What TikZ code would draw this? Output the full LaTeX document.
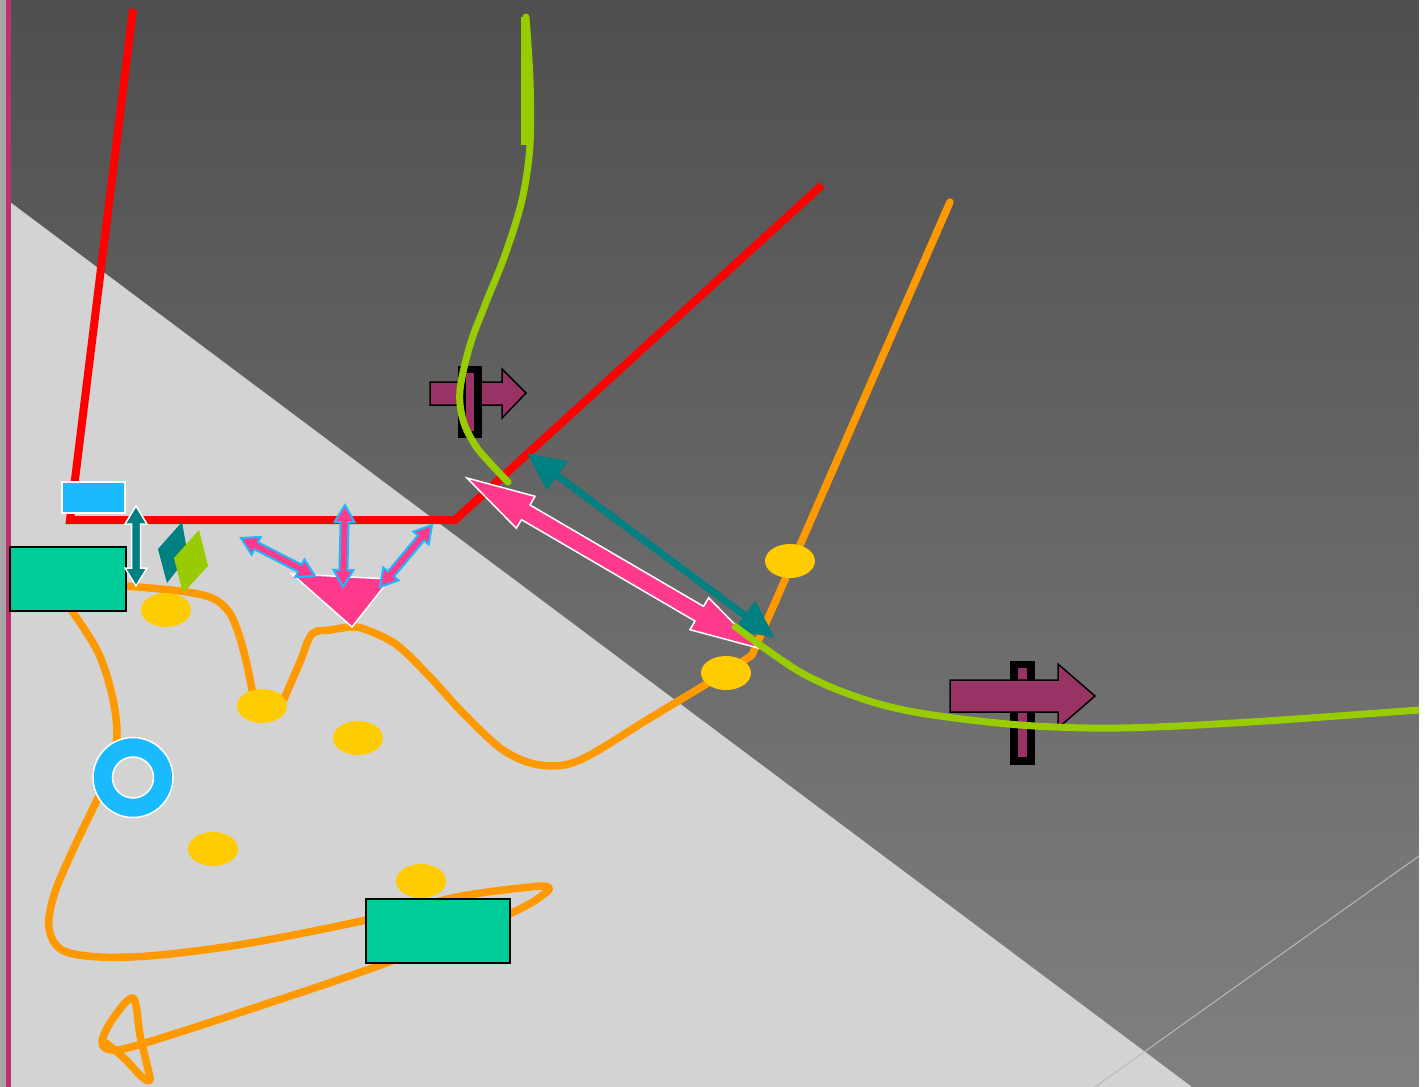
\documentclass[tikz,border=0pt]{standalone}
\usetikzlibrary{shapes.geometric,arrows.meta}
\definecolor{bgtop}{RGB}{79,79,79}
\definecolor{bgbot}{RGB}{128,128,128}
\definecolor{lightbg}{RGB}{211,211,211}
\definecolor{redl}{RGB}{255,0,0}
\definecolor{greenl}{RGB}{153,204,0}
\definecolor{orangel}{RGB}{255,153,0}
\definecolor{tealc}{RGB}{0,128,128}
\definecolor{pinkc}{RGB}{255,58,140}
\definecolor{bluec}{RGB}{26,186,255}
\definecolor{yellowc}{RGB}{255,204,0}
\definecolor{mintc}{RGB}{0,204,153}
\definecolor{purplec}{RGB}{153,51,102}
\definecolor{magc}{RGB}{192,48,106}
\definecolor{stripc}{RGB}{166,166,166}
\definecolor{thinc}{RGB}{185,185,185}
\newcommand{\dblarr}[8]{%
  \pgfmathsetmacro{\arrdx}{#4-#2}%
  \pgfmathsetmacro{\arrdy}{#5-#3}%
  \pgfmathsetmacro{\arrL}{veclen(\arrdx,\arrdy)}%
  \pgfmathsetmacro{\arrang}{atan2(-\arrdy,\arrdx)}%
  \begin{scope}[shift={(#2,#3)},rotate=\arrang]
    \draw[#1] (0,0) -- (#8,#7) -- (#8,#6) -- (\arrL-#8,#6) -- (\arrL-#8,#7) -- (\arrL,0)
      -- (\arrL-#8,-#7) -- (\arrL-#8,-#6) -- (#8,-#6) -- (#8,-#7) -- cycle;
  \end{scope}}
\tikzset{
  redline/.style={draw=redl, line width=8pt, line join=miter},
  greenline/.style={draw=greenl, line width=7pt, line cap=round},
  orangeline/.style={draw=orangel, line width=7.5pt, line cap=round, line join=round},
  yel/.style={ellipse, fill=yellowc, minimum width=50pt, minimum height=34pt, inner sep=0pt},
  mintrect/.style={rectangle, fill=mintc, draw=black, line width=1.5pt, inner sep=0pt},
  bluerect/.style={rectangle, fill=bluec, draw=white, line width=2pt, inner sep=0pt},
  purplearrow/.style={fill=purplec, draw=black, line width=1.5pt, line join=miter},
  smallpink/.style={fill=pinkc, draw=bluec, line width=2pt},
  bigpink/.style={fill=pinkc, draw=white, line width=1.5pt},
  tealdbl/.style={fill=tealc, draw=white, line width=1.5pt},
}
\begin{document}
\begin{tikzpicture}[x=1pt,y=-1pt]
\useasboundingbox (0,0) rectangle (1425,1087);
% background
\shade[top color=bgtop, bottom color=bgbot] (0,0) rectangle (1425,1087);
\fill[lightbg] (10,202) -- (1192,1087) -- (10,1087) -- cycle;
\draw[thinc, line width=1pt] (1095,1087) -- (1419,856);
\fill[stripc] (0,0) rectangle (6,1087);
\fill[magc] (6,0) rectangle (10.5,1087);
\fill[white] (1419,0) rectangle (1425,1087);
% red line
\draw[redline] (133,9) -- (70,520) -- (455,520) -- (822,185);
% orange lines
\draw[orangeline] (950,202) -- (752,655);
\draw[orangeline] plot[smooth, tension=0.55] coordinates {(752,655) (726,672) (650,718) (580,760) (540,765) (503,750) (463,713) (430,677) (397,645) (367,630) (352,627) (330,630) (312,634) (300,662) (284,699)};
\draw[orangeline] plot[smooth, tension=0.55] coordinates {(254,700) (247,665) (239,635) (229,612) (212,598) (180,591) (126,586)};
\draw[orangeline] plot[smooth, tension=0.55] coordinates {(72,611) (98,652) (112,695) (117,735) (110,772) (97,800) (72,852) (54,895) (49,928) (62,950) (100,957) (160,955) (250,943) (366,920) (457,897) (530,887) (548,887) (544,894) (509,914) (389,962) (263,1005) (145,1043) (112,1050) (102,1042) (112,1020) (133,998) (140,1035) (147,1065) (150,1080) (142,1077) (124,1058) (106,1043)};
% yellow ellipses
\node[yel] (e1) at (166,610) {};
\node[yel] (e2) at (262,706) {};
\node[yel] (e3) at (358,738) {};
\node[yel] (e4) at (213,849) {};
\node[yel] (e5) at (421,881) {};
\node[yel] (e6) at (790,561) {};
\node[yel] (e7) at (726,673) {};
% green rectangles
\node[mintrect, minimum width=116pt, minimum height=64pt] (r1) at (68,579) {};
\node[mintrect, minimum width=144pt, minimum height=64pt] (r2) at (438,931) {};
% ring
\draw[fill=bluec, draw=white, line width=1.5pt] (133,777.5) circle[radius=40];
\draw[fill=lightbg, draw=white, line width=1.5pt] (133,777.5) circle[radius=20.5];
% blue rect
\node[bluerect, minimum width=63pt, minimum height=31pt] (b1) at (93.5,497.5) {};
% teal vertical double arrow
\dblarr{tealdbl}{136}{506}{136}{586}{4.5}{11}{18}
% rhombi
\fill[tealc] (182,522) -- (188,556) -- (167,583) -- (158,549) -- cycle;
\fill[greenl] (199,530) -- (208,566) -- (183,593) -- (174,558) -- cycle;
% pink triangle
\draw[fill=pinkc, draw=white, line width=1.5pt] (292,574) -- (390,579) -- (352,627) -- cycle;
% small pink arrows
\dblarr{smallpink}{241}{538}{315}{576}{4}{10}{17}
\dblarr{smallpink}{345}{505}{343}{587}{4}{10}{17}
\dblarr{smallpink}{432}{525}{380}{587}{4}{10}{17}
% small purple arrow with bar
\draw[purplearrow] (430,382) -- (502,382) -- (502,369) -- (526,393) -- (502,418) -- (502,405) -- (430,405) -- cycle;
\fill[black] (458,366) rectangle (482,438);
\fill[purplec] (466,373) rectangle (474,431);
% green curve 1
\fill[greenl] (521,17) rectangle (529,145);
\draw[greenline] plot[smooth, tension=0.55] coordinates {(526,17) (530,80) (530,145) (522,200) (505,255) (485,305) (470,345) (460,390) (463,420) (475,445) (490,463) (508,482)};
% big pink double arrow
\dblarr{bigpink}{467}{478}{758}{648}{8.5}{18.5}{68}
% teal double arrow
\draw[draw=tealc, line width=7pt, {Triangle[length=38pt,width=34pt]}-{Triangle[length=38pt,width=34pt]}] (527,453) -- (775,638);
% large purple arrow with bar
\fill[black] (1010,661) rectangle (1035,765);
\fill[purplec] (1018,668) rectangle (1027,757);
\draw[purplearrow] (950,680) -- (1058,680) -- (1058,664) -- (1095,696) -- (1058,728) -- (1058,712) -- (950,712) -- cycle;
% green curve 2
\draw[greenline, line cap=butt] plot[smooth, tension=0.55] coordinates {(733,625) (800,672) (860,698) (920,713) (1020,725) (1120,728) (1250,722) (1419,710)};
\end{tikzpicture}
\end{document}
